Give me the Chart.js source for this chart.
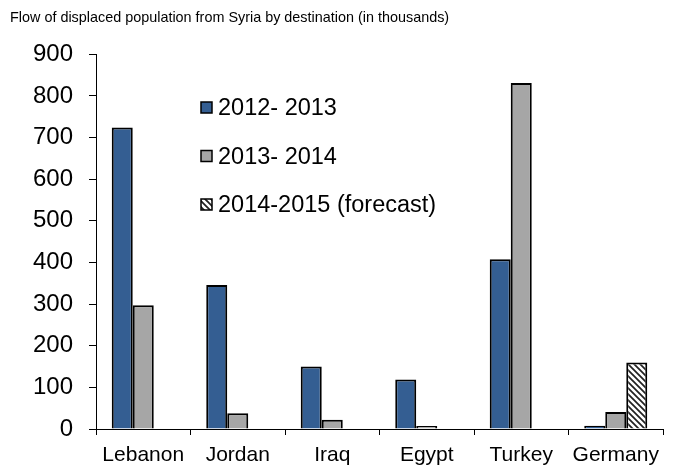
<!DOCTYPE html>
<html>
<head>
<meta charset="utf-8">
<script src="https://cdn.jsdelivr.net/npm/chart.js@4"></script>
<style>
  body { margin: 0; background: #fff; }
</style>
</head>
<body>
<canvas id="flows" width="674" height="474"></canvas>
<script>
const categories = ['Lebanon', 'Jordan', 'Iraq', 'Egypt', 'Turkey', 'Germany'];
const flow2012_13 = [724, 346, 150, 119, 408, 8];
const flow2013_14 = [297, 38, 22, 7, 831, 41];
const flow2014_15 = [null, null, null, null, null, 160];
const seriesLabels = ['2012- 2013', '2013- 2014', '2014-2015 (forecast)'];

Chart.defaults.font.family = "Arial, 'Liberation Sans', sans-serif";
Chart.defaults.color = '#000';

// diagonal hatch for the forecast bar
function makeHatch() {
    const c = document.createElement('canvas');
    c.width = 6; c.height = 6;
    const ctx = c.getContext('2d');
    ctx.fillStyle = '#fff';
    ctx.fillRect(0, 0, 6, 6);
    ctx.strokeStyle = '#222';
    ctx.lineWidth = 1.7;
    ctx.beginPath();
    ctx.moveTo(-1, -1); ctx.lineTo(7, 7);
    ctx.moveTo(-4, 2); ctx.lineTo(4, 10);
    ctx.moveTo(2, -4); ctx.lineTo(10, 4);
    ctx.stroke();
    return ctx.createPattern(c, 'repeat');
}
const hatch = makeHatch();
const fills = ['#345e92', '#a6a6a6', hatch];

// legend drawn inside the plot area
const insideLegend = {
    id: 'insideLegend',
    afterDraw(chart) {
        const ctx = chart.ctx;
        ctx.save();
        ctx.font = "23.5px Arial, 'Liberation Sans', sans-serif";
        ctx.textBaseline = 'middle';
        ctx.textAlign = 'left';
        chart.data.datasets.forEach((ds, i) => {
            const y = 108 + i * 48.5;
            ctx.fillStyle = fills[i];
            ctx.fillRect(201, y - 6, 11, 11);
            ctx.strokeStyle = '#000';
            ctx.lineWidth = 1.5;
            ctx.strokeRect(201, y - 6, 11, 11);
            ctx.fillStyle = '#000';
            ctx.fillText(ds.label, 218, y + 1);
        });
        ctx.restore();
    }
};

new Chart(document.getElementById('flows'), {
    type: 'bar',
    data: {
        labels: categories,
        datasets: [flow2012_13, flow2013_14, flow2014_15].map((d, i) => ({
            label: seriesLabels[i],
            data: d,
            backgroundColor: fills[i],
            borderColor: '#000',
            borderWidth: 2,
            categoryPercentage: 0.667,
            barPercentage: 1.0
        }))
    },
    options: {
        responsive: false,
        animation: false,
        layout: { padding: { left: 10, right: 11, top: 0, bottom: 0 } },
        plugins: {
            legend: { display: false },
            tooltip: { enabled: false },
            title: {
                display: true,
                text: 'Flow of displaced population from Syria by destination (in thousands)',
                align: 'start',
                font: { size: 14.4, weight: 'normal' },
                color: '#000',
                padding: { top: 9, bottom: 28 }
            }
        },
        scales: {
            x: {
                grid: { drawOnChartArea: false, color: '#000', tickLength: 6, lineWidth: 1 },
                border: { color: '#000', width: 1 },
                ticks: { font: { size: 21 }, color: '#000', padding: 8, maxRotation: 0 },
                afterFit(scale) { scale.height = 45; }
            },
            y: {
                min: 0,
                max: 900,
                grid: { drawOnChartArea: false, color: '#000', tickLength: 7, lineWidth: 1 },
                border: { color: '#000', width: 1 },
                ticks: { stepSize: 100, font: { size: 24 }, color: '#000', padding: 16 },
                afterFit(scale) { scale.width = 86; }
            }
        }
    },
    plugins: [insideLegend]
});
</script>
</body>
</html>
